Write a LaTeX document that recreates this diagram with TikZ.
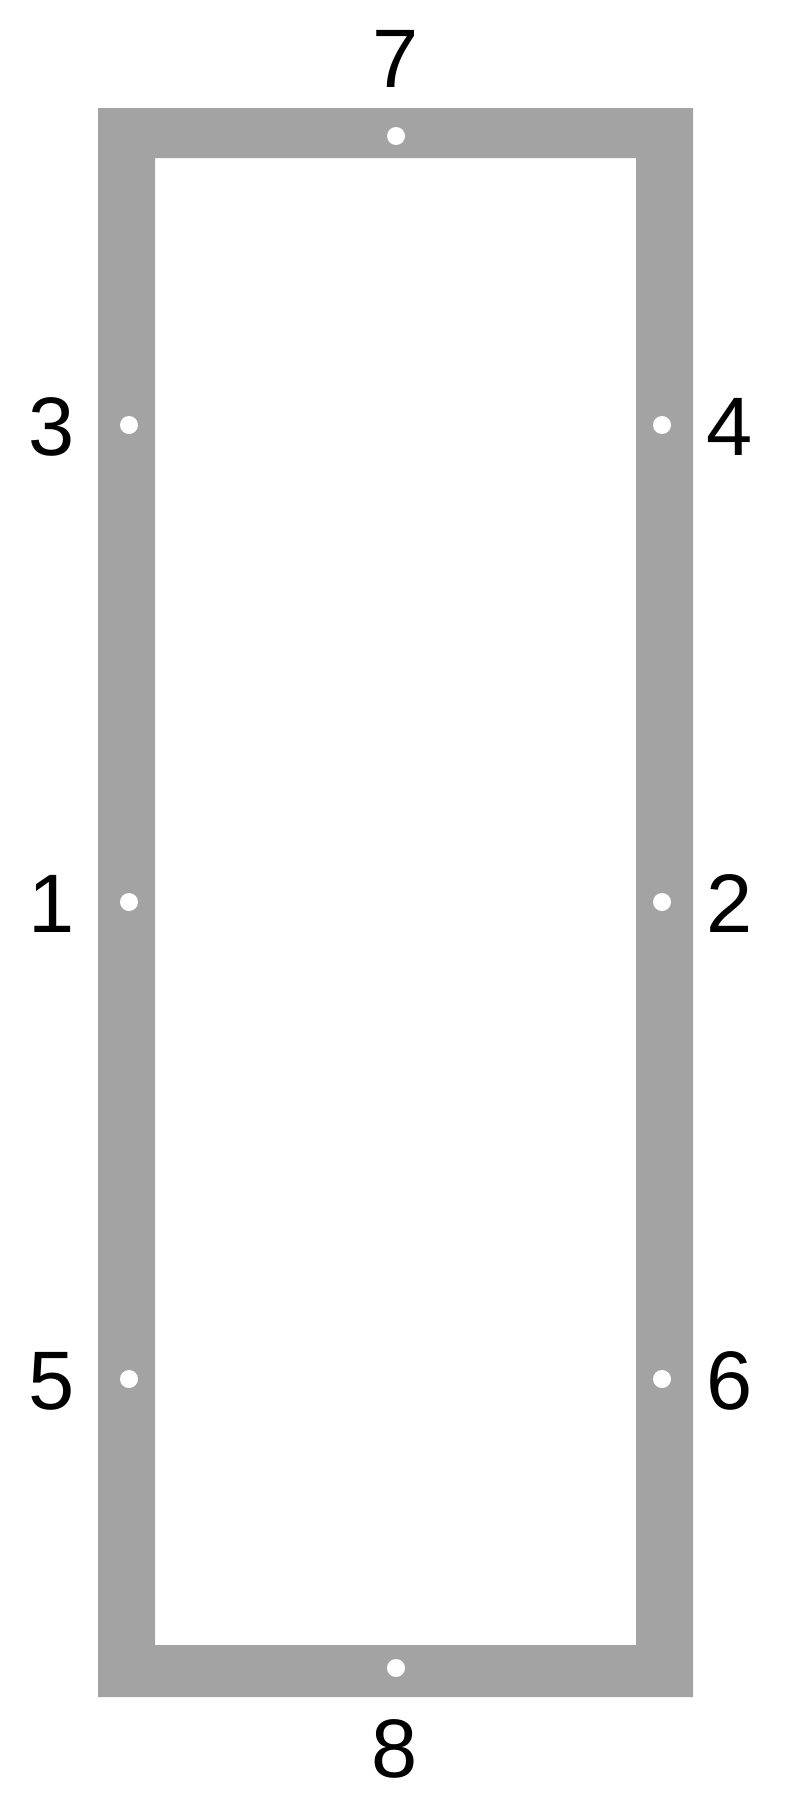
\documentclass[tikz,border=0pt]{standalone}
\usepackage{fontspec}
\setmainfont{Liberation Sans}
\definecolor{framegray}{RGB}{163,163,163}
\begin{document}
\begin{tikzpicture}[x=1pt,y=-1pt,
  hole/.style={circle,fill=white,inner sep=0pt,minimum size=18pt},
  lbl/.style={inner sep=0pt,font=\fontsize{83}{83}\selectfont,text=black}]
\useasboundingbox (0,0) rectangle (793,1796);
\fill[white] (0,0) rectangle (793,1796);
\fill[framegray,even odd rule] (98,108) rectangle (693,1697) (155,158) rectangle (636,1645);
% holes
\node[hole] (h7) at (396,136) {};
\node[hole] (h8) at (396,1668) {};
\node[hole] (h3) at (129,425) {};
\node[hole] (h4) at (662,425) {};
\node[hole] (h1) at (129,902) {};
\node[hole] (h2) at (662,902) {};
\node[hole] (h5) at (129,1379) {};
\node[hole] (h6) at (662,1379) {};
% labels
\node[lbl] (l7) at (395.5,59) {7};
\node[lbl] (l8) at (395,1748.5) {8};
\node[lbl] (l3) at (51.5,427) {3};
\node[lbl] (l4) at (730,427) {4};
\node[lbl] (l1) at (51.5,904) {1};
\node[lbl] (l2) at (730,904) {2};
\node[lbl] (l5) at (51.5,1381) {5};
\node[lbl] (l6) at (730,1381) {6};
\end{tikzpicture}
\end{document}
